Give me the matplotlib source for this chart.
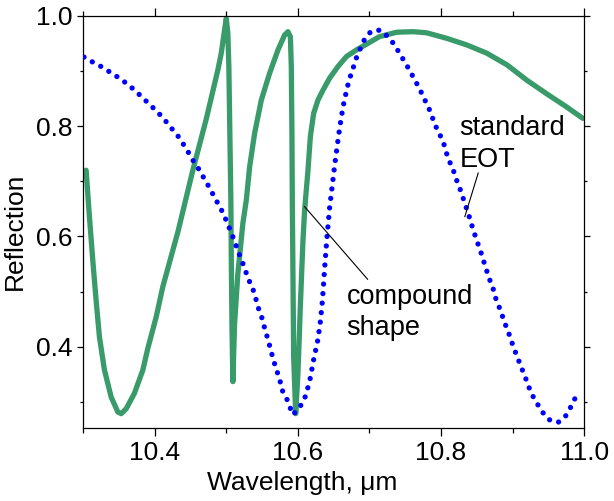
import matplotlib
matplotlib.use('Agg')
import matplotlib.pyplot as plt
from matplotlib.ticker import MultipleLocator, FormatStrFormatter

plt.rcParams['font.family'] = ['Liberation Sans', 'DejaVu Sans']

# standard EOT (blue dotted)
eot_wl = [10.3015, 10.3136, 10.3267, 10.3387, 10.3508, 10.3623, 10.3732, 10.3836, 10.3934, 10.4038,
          10.4131, 10.4224, 10.4317, 10.4394, 10.4470, 10.4541, 10.4618, 10.4689, 10.4760, 10.4826,
          10.4897, 10.4963, 10.5017, 10.5072, 10.5121, 10.5170, 10.5220, 10.5269, 10.5318, 10.5378,
          10.5422, 10.5460, 10.5510, 10.5542, 10.5586, 10.5619, 10.5657, 10.5701, 10.5750, 10.5772,
          10.5843, 10.5931, 10.6029, 10.6095, 10.6133, 10.6171, 10.6221, 10.6281, 10.6319, 10.6346,
          10.6374, 10.6407, 10.6445, 10.6478, 10.6511, 10.6549, 10.6587, 10.6631, 10.6691, 10.6729,
          10.6773, 10.6817, 10.6872, 10.6932, 10.7019, 10.7150, 10.7260, 10.7353, 10.7424, 10.7500,
          10.7566, 10.7637, 10.7703, 10.7768, 10.7829, 10.7878, 10.7933, 10.7993, 10.8047, 10.8086,
          10.8135, 10.8190, 10.8233, 10.8288, 10.8326, 10.8376, 10.8414, 10.8458, 10.8501, 10.8551,
          10.8594, 10.8638, 10.8682, 10.8731, 10.8769, 10.8819, 10.8868, 10.8917, 10.8966, 10.9010,
          10.9065, 10.9114, 10.9169, 10.9218, 10.9273, 10.9344, 10.9415, 10.9513, 10.9634, 10.9737,
          10.9808, 10.9869]
eot_r = [0.925, 0.916, 0.907, 0.897, 0.887, 0.876, 0.864, 0.851, 0.839, 0.826,
         0.813, 0.798, 0.784, 0.769, 0.753, 0.737, 0.722, 0.706, 0.690, 0.674,
         0.657, 0.641, 0.624, 0.607, 0.590, 0.572, 0.556, 0.538, 0.521, 0.503,
         0.484, 0.466, 0.449, 0.431, 0.413, 0.396, 0.378, 0.359, 0.341, 0.324,
         0.307, 0.277, 0.291, 0.306, 0.322, 0.341, 0.376, 0.413, 0.449, 0.486,
         0.540, 0.597, 0.652, 0.688, 0.724, 0.762, 0.798, 0.834, 0.870, 0.888,
         0.905, 0.923, 0.940, 0.957, 0.971, 0.974, 0.962, 0.947, 0.931, 0.915,
         0.900, 0.883, 0.867, 0.849, 0.833, 0.816, 0.798, 0.782, 0.765, 0.747,
         0.731, 0.714, 0.696, 0.679, 0.662, 0.644, 0.627, 0.609, 0.592, 0.574,
         0.556, 0.538, 0.521, 0.504, 0.486, 0.470, 0.452, 0.434, 0.418, 0.400,
         0.382, 0.365, 0.348, 0.330, 0.313, 0.297, 0.282, 0.268, 0.263, 0.274,
         0.290, 0.306]

# compound shape (green solid)
cmp_wl = [10.3045, 10.3091, 10.3138, 10.3184, 10.3231, 10.3301, 10.3395, 10.3488, 10.3535, 10.3605,
          10.3720, 10.3837, 10.3906, 10.4023, 10.4116, 10.4326, 10.4535, 10.4723, 10.4885, 10.4932,
          10.4978, 10.5002, 10.5024, 10.5038, 10.5052, 10.5066,
          10.5072, 10.5081, 10.5094, 10.5118, 10.5164, 10.5234, 10.5282, 10.5328, 10.5398, 10.5491,
          10.5608, 10.5724, 10.5817, 10.5863, 10.5897, 10.5910, 10.5919, 10.5924, 10.5943, 10.5971,
          10.6003, 10.6036, 10.6073, 10.6096, 10.6143, 10.6176, 10.6222, 10.6282, 10.6352, 10.6446,
          10.6562, 10.6680, 10.6820, 10.6981, 10.7140, 10.7380, 10.7610, 10.7800, 10.8080, 10.8360,
          10.8640, 10.8920, 10.9200, 10.9470, 10.9750, 10.9980]
cmp_r = [0.720, 0.636, 0.557, 0.485, 0.418, 0.358, 0.309, 0.282, 0.279, 0.288,
         0.316, 0.358, 0.397, 0.454, 0.509, 0.608, 0.720, 0.813, 0.902, 0.932,
         0.974, 0.995, 0.968, 0.908, 0.787, 0.666,
         0.563, 0.442, 0.337, 0.442, 0.533, 0.624, 0.666, 0.726, 0.787, 0.847,
         0.896, 0.938, 0.965, 0.971, 0.962, 0.908, 0.787, 0.666, 0.382, 0.279,
         0.352, 0.473, 0.593, 0.648, 0.720, 0.781, 0.823, 0.847, 0.865, 0.887,
         0.908, 0.926, 0.938, 0.950, 0.962, 0.970, 0.971, 0.969, 0.959, 0.947,
         0.932, 0.911, 0.883, 0.859, 0.835, 0.814]

x_ticks = [10.4, 10.6, 10.8, 11.0]
y_ticks = [0.4, 0.6, 0.8, 1.0]

fig = plt.figure(figsize=(6.14, 5.01), dpi=100)
ax = fig.add_axes([0.135, 0.1457, 0.8165, 0.823])

ax.plot(cmp_wl, cmp_r, color='#389B69', lw=3.8, solid_joinstyle='round',
        solid_capstyle='round', zorder=2)
ax.plot(eot_wl, eot_r, color='#0000FF', lw=3.8, linestyle=(0, (0.01, 1.8)),
        dash_capstyle='round', zorder=3)

ax.set_xlim(10.3, 11.0)
ax.set_ylim(0.253, 1.0)
ax.set_xticks(x_ticks)
ax.set_yticks(y_ticks)
ax.xaxis.set_minor_locator(MultipleLocator(0.1))
ax.yaxis.set_minor_locator(MultipleLocator(0.1))
ax.xaxis.set_major_formatter(FormatStrFormatter('%.1f'))
ax.yaxis.set_major_formatter(FormatStrFormatter('%.1f'))

for s in ax.spines.values():
    s.set_linewidth(0.9)
ax.tick_params(which='both', direction='out', top=True, right=True,
               labeltop=False, labelright=False, width=0.9, labelsize=19)
ax.tick_params(axis='x', which='major', length=6, pad=3)
ax.tick_params(axis='x', which='minor', length=3.6)
ax.tick_params(axis='y', which='major', length=4.2, pad=3)
ax.tick_params(axis='y', which='minor', length=2.2)

ax.set_xlabel('Wavelength, \u03bcm', fontsize=19)
ax.set_ylabel('Reflection', fontsize=19)
ax.xaxis.set_label_coords(0.437, -0.104)
ax.yaxis.set_label_coords(-0.112, 0.476)

ax.text(10.826, 0.784, 'standard', fontsize=19.5, ha='left', va='baseline')
ax.text(10.826, 0.7263, 'EOT', fontsize=19.5, ha='left', va='baseline')
ax.text(10.668, 0.477, 'compound', fontsize=19.5, ha='left', va='baseline')
ax.text(10.668, 0.421, 'shape', fontsize=19.5, ha='left', va='baseline')

ax.plot([10.6096, 10.6975], [0.654, 0.5225], color='black', lw=0.8, zorder=4)
ax.plot([10.852, 10.8333], [0.715, 0.636], color='black', lw=0.8, zorder=4)

fig.savefig('out.png', dpi=100)
